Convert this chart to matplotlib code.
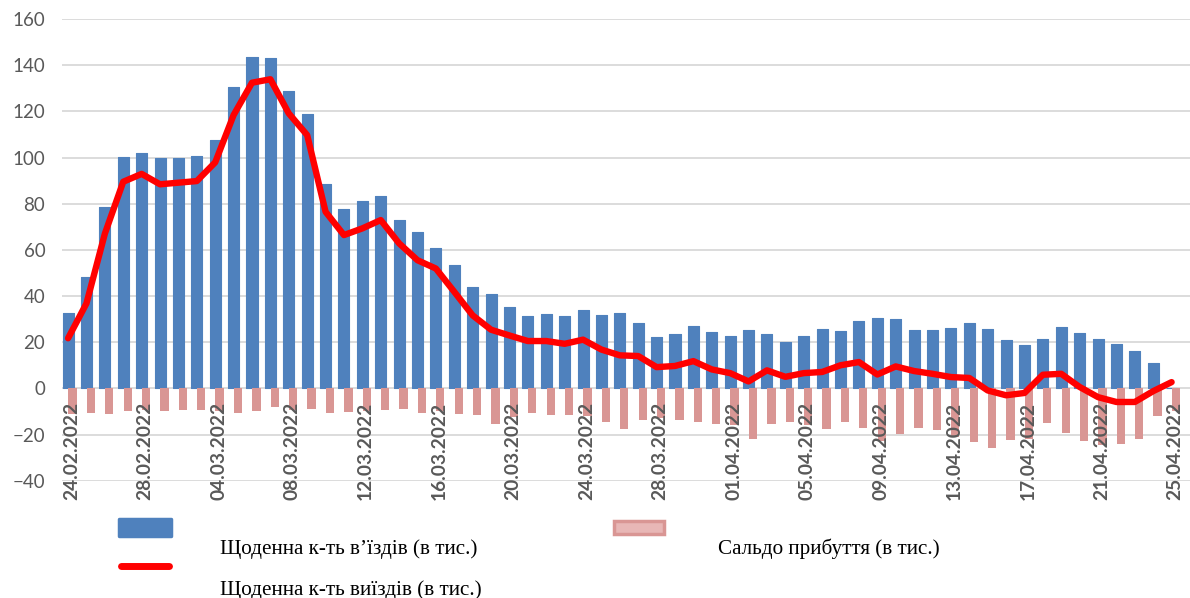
import numpy as np
import matplotlib
matplotlib.use('Agg')
import matplotlib.pyplot as plt
from matplotlib.patches import Rectangle
from matplotlib.lines import Line2D
import datetime as dt

# ---- data ----
start = dt.date(2022, 2, 24)
dates = [(start + dt.timedelta(days=k)).strftime('%d.%m.%Y') for k in range(61)]

entries = [32.5, 48.4, 78.4, 100.4, 102, 99.6, 99.9, 100.6, 107.6, 130.4,
           143.7, 143, 128.8, 119, 88.4, 77.5, 81, 83.3, 73, 67.9,
           61, 53.3, 43.7, 41, 35.3, 31.4, 32.3, 31.4, 33.8, 31.9,
           32.7, 28.5, 22.3, 23.7, 26.9, 24.4, 22.5, 25.1, 23.7, 20.1,
           22.5, 25.9, 24.7, 29.0, 30.6, 29.9, 25.4, 25.4, 26.3, 28.5,
           25.9, 20.9, 18.6, 21.5, 26.4, 24.0, 21.4, 19.0, 16.4, 11.2,
           0]

exits = [21.7, 36.8, 67, 89.5, 92.9, 88.4, 89.1, 89.8, 97.9, 118.4,
         132.4, 133.9, 119.1, 109.7, 76.5, 66.4, 69.3, 72.9, 62.8, 55.5,
         51.9, 41.8, 31.6, 25.4, 22.9, 20.5, 20.5, 19.3, 21.1, 16.8,
         14.3, 14.0, 9.2, 9.7, 11.8, 8.2, 6.6, 3.0, 7.8, 5.0,
         6.6, 7.1, 10, 11.4, 6.0, 9.5, 7.5, 6.3, 4.9, 4.5,
         -0.9, -3.0, -2.0, 5.9, 6.3, 0.6, -3.8, -5.9, -5.9, -1.2,
         2.7]

balance = [-11, -10.8, -11.1, -9.7, -9.5, -9.8, -9.4, -9.4, -10, -10.5,
           -9.7, -7.9, -9.5, -9.1, -10.8, -10.1, -10, -9.4, -8.8, -10.5,
           -10, -11, -11.7, -15.6, -12.5, -10.7, -11.7, -11.7, -12, -14.7,
           -17.5, -13.6, -13, -13.6, -14.6, -15.6, -16, -21.8, -15.6, -14.6,
           -16, -17.5, -14.6, -17.1, -23, -19.9, -17.1, -18.2, -21, -23.3,
           -25.7, -22.5, -22, -15.0, -19.4, -23.0, -24.5, -24.3, -21.8, -12.1,
           -10]

yticks = list(range(-40, 161, 20))
label_entries = 'Щоденна к-ть в’їздів (в тис.)'
label_exits = 'Щоденна к-ть виїздів (в тис.)'
label_balance = 'Сальдо прибуття (в тис.)'

BLUE = '#4F81BD'
PINK = '#D99694'
RED = '#FF0000'
GRAY = '#595959'

W, H = 1190, 598
fig = plt.figure(figsize=(W / 100, H / 100), dpi=100)
ax = fig.add_axes([62 / W, 1 - 480.7 / H, 1 - 62 / W, (480.7 - 19) / H])

x = np.arange(len(dates))
ax.bar(x, entries, width=0.6, color=BLUE, edgecolor=BLUE, linewidth=0.8,
       joinstyle='round', zorder=2)
ax.bar(x + 0.24, balance, width=0.45, color=PINK, linewidth=0, zorder=2)
ax.plot(x, exits, color=RED, lw=4.6, zorder=4,
        solid_joinstyle='round', solid_capstyle='round')

ax.set_ylim(-40, 160)
ax.set_xlim(-0.33, 61.0)
ax.set_yticks(yticks)
ax.grid(axis='y', color='#D9D9D9', lw=1.3)
ax.set_axisbelow(True)
for sp in ax.spines.values():
    sp.set_visible(False)
ax.set_xticks([])
ax.tick_params(axis='y', length=0, pad=12, labelsize=13.5, labelcolor=GRAY)
for t in ax.get_yticklabels():
    t.set_fontfamily('Lato')

for i in range(0, len(dates), 4):
    ax.text(i + 0.18, -5.8, dates[i], rotation=90, ha='center', va='top',
            fontsize=13.8, fontweight='bold', color=GRAY, family='Lato',
            zorder=5)

# ---- legend (figure coordinates) ----
def fx(px):
    return px / W

def fy(py):
    return 1 - py / H

fig.patches.append(Rectangle((fx(119), fy(536)), fx(52), 17 / H,
                             transform=fig.transFigure, facecolor=BLUE,
                             edgecolor=BLUE, lw=2.5, joinstyle='round'))
fig.lines.append(Line2D([fx(121), fx(169)], [fy(566), fy(566)],
                        transform=fig.transFigure, color=RED, lw=5,
                        solid_capstyle='round'))
fig.patches.append(Rectangle((fx(614), fy(534)), fx(50), 13 / H,
                             transform=fig.transFigure, facecolor='#E8B7B6',
                             edgecolor=PINK, lw=2.5))

txt_kw = dict(family='Liberation Serif', fontsize=15.2, color='black',
              va='center', ha='left')
fig.text(fx(220), fy(549), label_entries, **txt_kw)
fig.text(fx(220), fy(590), label_exits, **txt_kw)
fig.text(fx(718), fy(549), label_balance, **txt_kw)

fig.savefig('out.png', dpi=100)
